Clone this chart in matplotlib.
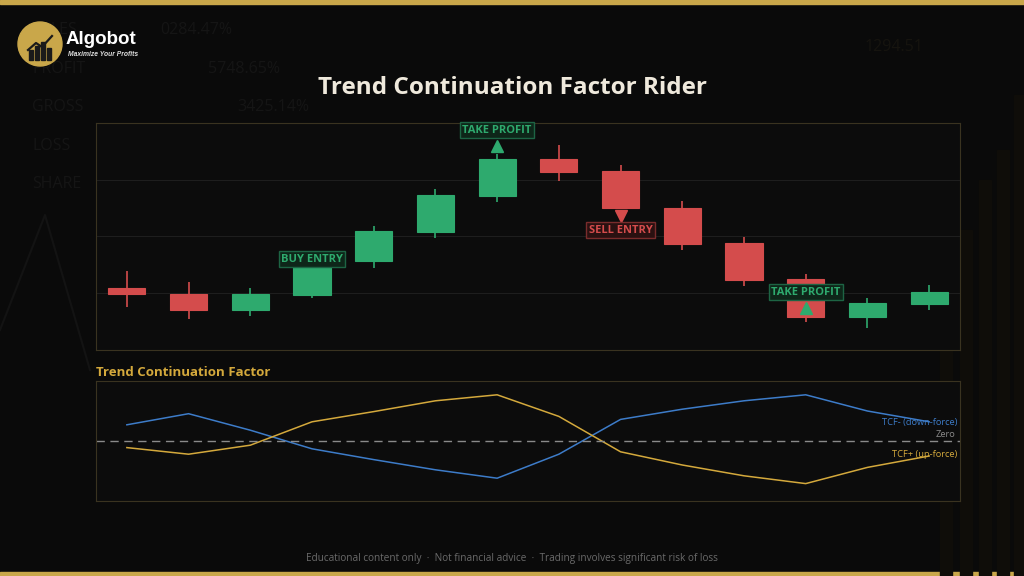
import numpy as np
import matplotlib.pyplot as plt
from matplotlib.patches import Circle, Rectangle

plt.rcParams['font.family'] = ['Open Sans', 'DejaVu Sans']

# candle data (open, high, low, close)
opens = [100.9, 99.8, 97.1, 99.7, 105.6, 110.8, 117.2, 123.6, 121.5, 115.1, 108.8, 102.5, 95.9, 98.1]
highs = [104.0, 101.9, 100.9, 105.5, 111.9, 118.3, 124.6, 126.2, 122.6, 116.2, 109.9, 103.4, 99.2, 101.4]
lows = [97.6, 95.5, 96.0, 99.2, 104.4, 109.8, 116.1, 119.8, 114.8, 107.6, 101.3, 94.9, 93.9, 97.1]
closes = [99.8, 97.1, 99.8, 104.9, 110.9, 117.3, 123.6, 121.4, 115.0, 108.6, 102.3, 95.9, 98.2, 100.3]

# trend continuation factor
tcf_minus = [0.27, 0.455, 0.18, -0.13, -0.31, -0.48, -0.62, -0.22, 0.36, 0.53, 0.67, 0.77, 0.50, 0.32]
tcf_plus = [-0.11, -0.22, -0.07, 0.32, 0.49, 0.67, 0.77, 0.41, -0.18, -0.40, -0.58, -0.71, -0.44, -0.25]

# signals: (bar index, label, kind, label price, marker price)
signals = [
    (3, "BUY ENTRY", "buy", 106.0, None),
    (6, "TAKE PROFIT", "tp", 128.7, 125.9),
    (8, "SELL ENTRY", "sell", 111.1, 113.7),
    (11, "TAKE PROFIT", "tp", 100.2, 97.4),
]

GREEN = "#2eaa6e"
RED = "#d44c4c"
GOLD = "#d4a93c"
BLUE = "#3d7cc9"
BG = "#0a0a0a"
PANEL = "#0c0c0c"
EDGE = "#3a3320"

fig = plt.figure(figsize=(10.24, 5.76), dpi=100)
fig.patch.set_facecolor(BG)

# background decoration
bg = fig.add_axes([0, 0, 1, 1], zorder=0)
bg.set_xlim(0, 1024)
bg.set_ylim(576, 0)
bg.axis("off")
bg.add_patch(Rectangle((0, 0), 1024, 4, color="#c9a74a"))
bg.add_patch(Rectangle((0, 572), 1024, 4, color="#c9a74a"))
faint = "#151515"
for lbl, val, yy, xx in [("SALES", "0284.47%", 30, 160), ("PROFIT", "5748.65%", 69, 208),
                         ("GROSS", "3425.14%", 107, 237), ("LOSS", "", 146, 0), ("SHARE", "", 184, 0)]:
    bg.text(32, yy, lbl, color=faint, fontsize=11.5, va="center", zorder=1)
    if val:
        bg.text(xx, yy, val, color=faint, fontsize=11.5, va="center", zorder=1)
bg.text(865, 47, "1294.51", color="#16140f", fontsize=11.5, va="center")
for bx, bt in zip([946, 966, 985, 1003, 1020], [330, 230, 180, 150, 95]):
    bg.add_patch(Rectangle((bx - 6, bt), 12, 576 - bt, color="#0f0d09"))
bg.plot([0, 45, 90], [330, 215, 370], color="#131313", lw=1.5)

# logo
bg.add_patch(Circle((40, 44), 22, color="#c9a74a", zorder=3))
bg.text(66, 39, "Algobot", color="white", fontsize=13.5, fontweight="bold", zorder=4,
        va="center", family=["Liberation Sans", "DejaVu Sans"])
bg.text(68, 54, "Maximize Your Profits", color="#dddddd", fontsize=4.9, style="italic", zorder=4,
        fontweight="bold", va="center", family=["Liberation Sans", "DejaVu Sans"])
for i, h in enumerate([10, 14, 18, 12]):
    bg.add_patch(Rectangle((29 + i * 6, 60 - h), 4, h, color="#1a1a1a", zorder=4))
bg.plot([28, 36, 42, 52], [50, 43, 47, 36], color="#1a1a1a", lw=1.6, zorder=4)

fig.text(0.5, 1 - 88 / 576, "Trend Continuation Factor Rider", color="#efe9dc",
         fontsize=17.5, fontweight="bold", ha="center", va="center")
fig.text(0.5, 1 - 558 / 576,
         "Educational content only  ·  Not financial advice  ·  Trading involves significant risk of loss",
         color="#6a6a6a", fontsize=7.2, ha="center", va="center")

# candle panel
ax = fig.add_axes([96 / 1024, 1 - 350 / 576, 864 / 1024, 227 / 576], zorder=2)
ax.set_facecolor(PANEL)
x = np.arange(len(opens))
o = np.array(opens)
c = np.array(closes)
up = c >= o
cols = np.where(up, GREEN, RED)
ax.vlines(x, lows, highs, colors=cols, lw=1.2, zorder=2)
ax.bar(x, np.abs(c - o), bottom=np.minimum(o, c), width=0.6, color=cols,
       edgecolor=cols, lw=0.8, zorder=3)
ax.set_xlim(-0.5, len(opens) - 0.5)
ax.set_ylim(90, 130)
ax.set_yticks([100, 110, 120])
ax.set_xticks([])
ax.tick_params(left=False, labelleft=False)
ax.grid(axis="y", color="#1e1e1e", lw=0.8)
for s in ax.spines.values():
    s.set_color(EDGE)

for idx, text, kind, ly, my in signals:
    col = RED if kind == "sell" else GREEN
    fc = "#2a1111" if kind == "sell" else "#0e2619"
    ec = "#7a2c2c" if kind == "sell" else "#1d6444"
    ax.text(idx, ly, text, color=col, fontsize=8, fontweight="bold", ha="center", va="center",
            zorder=6, bbox=dict(boxstyle="square,pad=0.22", fc=fc, ec=ec, lw=1))
    if my is not None:
        ax.plot(idx, my, marker="v" if kind == "sell" else "^", color=col,
                markersize=9, zorder=5)

# TCF panel
ax2 = fig.add_axes([96 / 1024, 1 - 501 / 576, 864 / 1024, 120 / 576], zorder=2)
ax2.set_facecolor(PANEL)
ax2.plot(x, tcf_minus, color=BLUE, lw=1.1)
ax2.plot(x, tcf_plus, color=GOLD, lw=1.1)
ax2.axhline(0, color="#8a8a8a", lw=1, ls=(0, (6, 4)))
ax2.set_xlim(-0.5, len(opens) - 0.5)
ax2.set_ylim(-1, 1)
ax2.set_xticks([])
ax2.set_yticks([])
for s in ax2.spines.values():
    s.set_color(EDGE)
ax2.text(0.0, 1.02, "Trend Continuation Factor", transform=ax2.transAxes, color=GOLD,
         fontsize=9.5, fontweight="bold", ha="left", va="bottom")
ax2.text(0.997, 0.656, "TCF- (down-force)", transform=ax2.transAxes, color=BLUE,
         fontsize=6.7, ha="right", va="center")
ax2.text(0.995, 0.515, "Zero", transform=ax2.transAxes, color="#8a8a8a",
         fontsize=6.7, ha="right", va="bottom")
ax2.text(0.997, 0.386, "TCF+ (up-force)", transform=ax2.transAxes, color=GOLD,
         fontsize=6.7, ha="right", va="center")

fig.savefig("out.png", dpi=100, facecolor=fig.get_facecolor())
